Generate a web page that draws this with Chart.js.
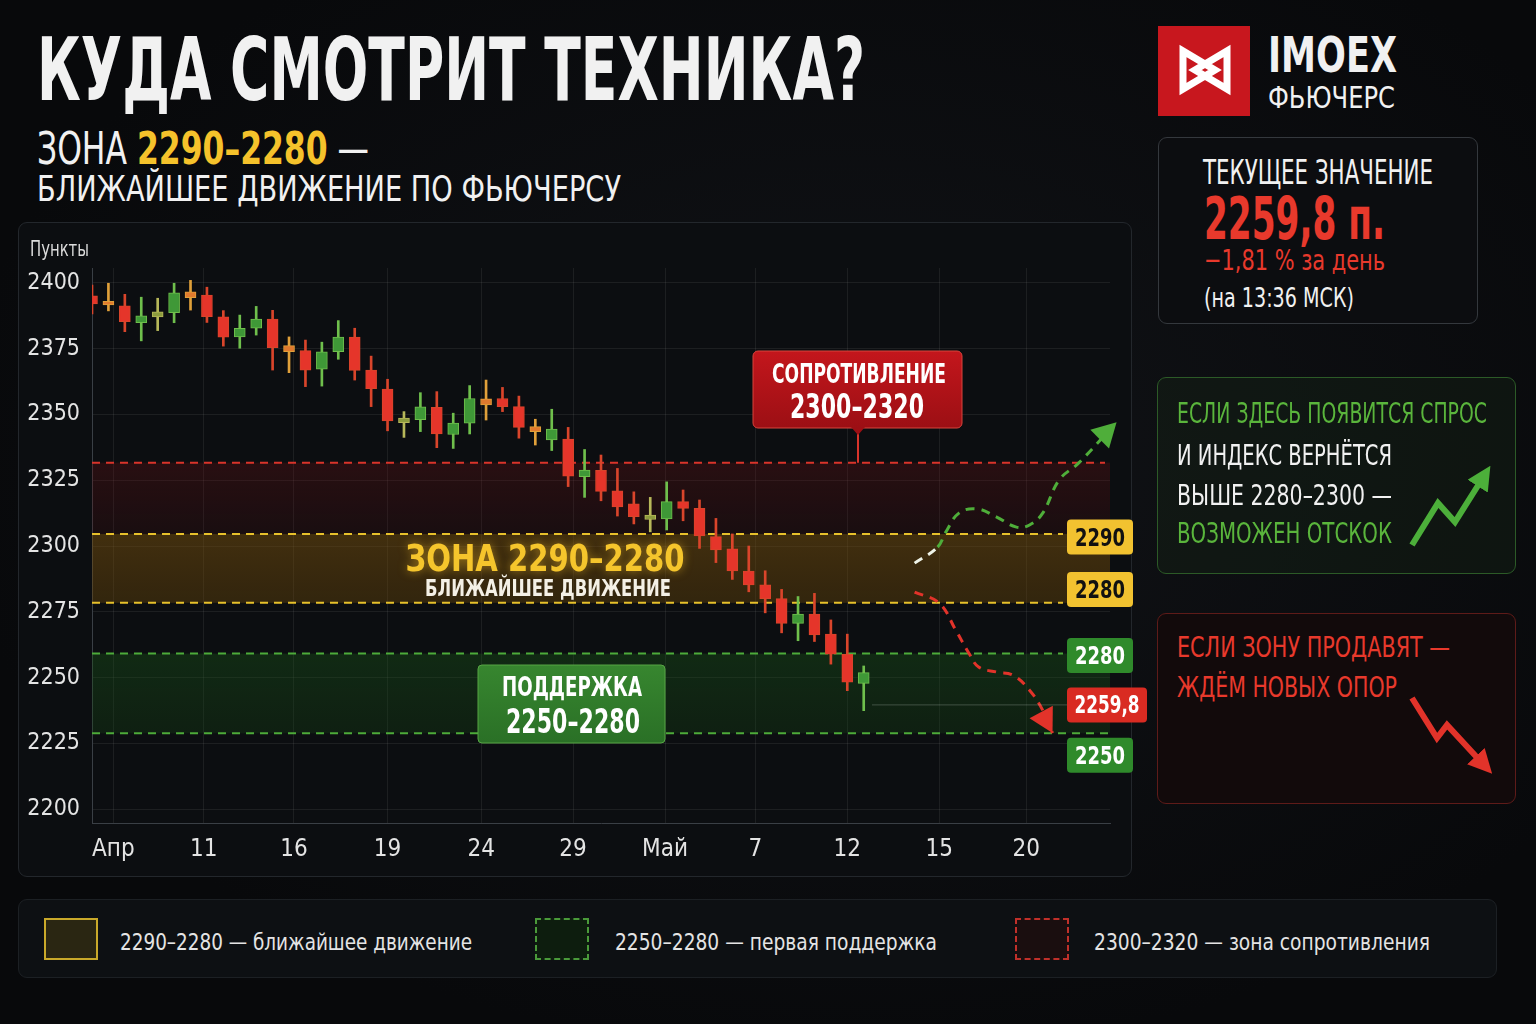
<!DOCTYPE html>
<html lang="ru">
<head>
<meta charset="utf-8">
<title>Куда смотрит техника? IMOEX фьючерс</title>
<script src="https://cdn.jsdelivr.net/npm/chart.js@4.4.1/dist/chart.umd.min.js"></script>
<style>
  html, body { margin: 0; padding: 0; }
  body {
    width: 1536px; height: 1024px; position: relative; overflow: hidden;
    background: radial-gradient(ellipse at 55% 45%, #111317 0%, #08090b 75%);
    font-family: "Liberation Sans Narrow", "DejaVu Sans Condensed", "Roboto", sans-serif;
    color: #f1f1f1;
  }
  .t { position: absolute; white-space: nowrap; line-height: 1; transform-origin: 0 0; }
  .box { position: absolute; box-sizing: border-box; border-radius: 9px; }
  .red { color: #e8392c; }
  .green { color: #5ab53c; }
  .yellow { color: #f5c22b; }
  .swatch { position: absolute; box-sizing: border-box; width: 54px; height: 42px; }
</style>
</head>
<body>

<!-- header -->
<div class="t" data-w="828" style="left:37px;top:26px;font-size:88px;font-weight:700;">КУДА СМОТРИТ ТЕХНИКА?</div>
<div class="t" data-w="332" style="left:37px;top:127px;font-size:44px;">ЗОНА <b class="yellow">2290–2280</b> —</div>
<div class="t" data-w="584" style="left:37px;top:172px;font-size:35px;">БЛИЖАЙШЕЕ ДВИЖЕНИЕ ПО ФЬЮЧЕРСУ</div>

<!-- chart panel -->
<div class="box" style="left:18px;top:222px;width:1114px;height:655px;background:#0c0e11;border:1px solid #23272c;"></div>
<canvas id="chartTech" width="1140" height="655" style="position:absolute;left:18px;top:222px;"></canvas>
<div class="t" data-w="59" style="left:30px;top:239px;font-size:21px;color:#dcdcdc;">Пункты</div>

<!-- logo -->
<div class="box" style="left:1158px;top:26px;width:92px;height:90px;background:#c8171e;border-radius:0;"></div>
<div class="t" data-w="129" style="left:1268px;top:31px;font-size:49px;font-weight:700;">IMOEX</div>
<div class="t" data-w="127" style="left:1268px;top:82px;font-size:31px;">ФЬЮЧЕРС</div>

<!-- current value -->
<div class="box" style="left:1158px;top:137px;width:320px;height:187px;background:#0c0d10;border:1px solid #34383d;"></div>
<div class="t" data-w="230" style="left:1203px;top:156px;font-size:33px;">ТЕКУЩЕЕ ЗНАЧЕНИЕ</div>
<div class="t red" data-w="181" style="left:1204px;top:190px;font-size:58px;font-weight:700;">2259,8 п.</div>
<div class="t red" data-w="181" style="left:1204px;top:246px;font-size:29px;">−1,81 % за день</div>
<div class="t" data-w="150" style="left:1204px;top:284px;font-size:27px;">(на 13:36 МСК)</div>

<!-- scenario: up -->
<div class="box" style="left:1157px;top:377px;width:359px;height:197px;background:rgba(22,40,22,0.35);border:1px solid #2c5a27;"></div>
<div class="t green" data-w="310" style="left:1177px;top:399px;font-size:29px;">ЕСЛИ ЗДЕСЬ ПОЯВИТСЯ СПРОС</div>
<div class="t" data-w="215" style="left:1177px;top:441px;font-size:29px;">И ИНДЕКС ВЕРНЁТСЯ</div>
<div class="t" data-w="215" style="left:1177px;top:481px;font-size:29px;">ВЫШЕ 2280–2300 —</div>
<div class="t green" data-w="215" style="left:1177px;top:519px;font-size:29px;">ВОЗМОЖЕН ОТСКОК</div>

<!-- scenario: down -->
<div class="box" style="left:1157px;top:613px;width:359px;height:191px;background:#120a0b;border:1px solid #5e1b19;"></div>
<div class="t red" data-w="273" style="left:1177px;top:633px;font-size:29px;">ЕСЛИ ЗОНУ ПРОДАВЯТ —</div>
<div class="t red" data-w="220" style="left:1177px;top:673px;font-size:29px;">ЖДЁМ НОВЫХ ОПОР</div>

<!-- legend -->
<div class="box" style="left:18px;top:899px;width:1479px;height:79px;background:#0d1013;border:1px solid #1c2024;"></div>
<div class="swatch" style="left:44px;top:918px;background:#2a2612;border:2px solid #c9a92a;"></div>
<div class="t" data-w="352" style="left:120px;top:931px;font-size:23px;color:#e4e4e4;">2290–2280 — ближайшее движение</div>
<div class="swatch" style="left:535px;top:918px;background:#0d1d0e;border:2px dashed #4a9a3a;"></div>
<div class="t" data-w="322" style="left:615px;top:931px;font-size:23px;color:#e4e4e4;">2250–2280 — первая поддержка</div>
<div class="swatch" style="left:1015px;top:918px;background:#1a0e0f;border:2px dashed #c0302a;"></div>
<div class="t" data-w="336" style="left:1094px;top:931px;font-size:23px;color:#e4e4e4;">2300–2320 — зона сопротивления</div>

<!-- vector decorations -->
<svg width="1536" height="1024" style="position:absolute;left:0;top:0;pointer-events:none;">
  <defs>
    <marker id="headG" viewBox="0 0 10 10" refX="5" refY="5" markerWidth="24" markerHeight="24" markerUnits="userSpaceOnUse" orient="auto">
      <path d="M0,0 L10,5 L0,10 z" fill="#4caf3a"/>
    </marker>
    <marker id="headR" viewBox="0 0 10 10" refX="5" refY="5" markerWidth="24" markerHeight="24" markerUnits="userSpaceOnUse" orient="auto">
      <path d="M0,0 L10,5 L0,10 z" fill="#e2332a"/>
    </marker>
  </defs>
  <path d="M1183 51 L1183 89 L1215 70 Z M1227 51 L1227 89 L1195 70 Z" fill="none" stroke="#ffffff" stroke-width="7" stroke-linejoin="miter"/>
  <polyline points="1412,545 1438,503 1455,522 1484,476" fill="none" stroke="#4caf3a" stroke-width="6" marker-end="url(#headG)"/>
  <polyline points="1412,698 1437,738 1447,725 1484,765" fill="none" stroke="#e2332a" stroke-width="6" marker-end="url(#headR)"/>
</svg>

<script>
// ---- candles (пункты), one per trading day ----
const candleOpen  = [2395.1, 2393.0, 2391.3, 2384.9, 2387.1, 2388.7, 2396.6, 2395.4, 2387.1, 2379.5, 2382.8, 2386.3, 2376.2, 2374.3, 2367.2, 2373.9, 2379.4, 2366.9, 2359.7, 2346.9, 2348.0, 2352.7, 2342.4, 2346.7, 2356.0, 2356.1, 2353.0, 2345.4, 2340.3, 2340.7, 2326.4, 2328.8, 2321.0, 2316.0, 2310.1, 2310.3, 2316.9, 2314.3, 2303.6, 2298.9, 2290.5, 2285.2, 2280.0, 2270.6, 2274.1, 2266.5, 2258.8, 2247.8];
const candleHigh  = [2399.2, 2399.9, 2395.7, 2394.6, 2394.2, 2399.9, 2401.0, 2398.4, 2389.5, 2387.8, 2391.1, 2389.6, 2379.5, 2378.3, 2377.5, 2385.7, 2382.8, 2372.2, 2363.4, 2351.1, 2358.3, 2358.7, 2350.5, 2361.0, 2363.1, 2360.3, 2357.0, 2348.2, 2352.0, 2345.1, 2336.7, 2334.6, 2329.5, 2320.6, 2318.5, 2324.4, 2321.3, 2317.5, 2310.5, 2304.6, 2300.0, 2290.6, 2283.5, 2280.8, 2282.0, 2271.9, 2266.5, 2254.4];
const candleLow   = [2388.2, 2389.4, 2381.5, 2378.0, 2381.9, 2384.9, 2389.7, 2385.0, 2376.0, 2375.2, 2380.2, 2366.9, 2365.9, 2360.6, 2360.8, 2371.0, 2363.1, 2353.0, 2343.8, 2341.3, 2343.5, 2337.4, 2337.1, 2342.6, 2347.9, 2351.1, 2341.0, 2338.4, 2336.3, 2322.6, 2318.5, 2317.2, 2311.4, 2308.4, 2305.4, 2306.1, 2309.6, 2299.1, 2293.7, 2287.3, 2282.6, 2274.6, 2267.0, 2264.0, 2263.7, 2255.1, 2245.0, 2237.4];
const candleClose = [2392.0, 2391.7, 2385.3, 2387.5, 2389.0, 2396.3, 2394.4, 2387.2, 2379.4, 2382.8, 2386.3, 2375.4, 2373.9, 2366.9, 2373.8, 2379.4, 2366.8, 2359.8, 2347.6, 2348.6, 2352.9, 2342.6, 2346.7, 2356.1, 2353.6, 2353.0, 2345.1, 2343.5, 2344.5, 2326.6, 2328.9, 2320.8, 2314.9, 2311.2, 2311.8, 2316.9, 2314.3, 2303.8, 2298.5, 2290.5, 2285.2, 2280.0, 2270.6, 2274.1, 2266.2, 2258.9, 2248.2, 2251.9];

// ---- axes ----
const xTickPos    = [1.3, 6.8, 12.3, 18.0, 23.7, 29.3, 34.9, 40.4, 46.0, 51.6, 56.9];
const xTickLabels = ['Апр', '11', '16', '19', '24', '29', 'Май', '7', '12', '15', '20'];
const yTicks      = [2200, 2225, 2250, 2275, 2300, 2325, 2350, 2375, 2400];

// ---- zones as drawn on the price scale ----
const resistZone  = [2304.6, 2331.7];
const nearZone    = [2278.4, 2304.6];
const supportZone = [2228.8, 2259.1];

// ---- scenario paths (day index, пункты) ----
const bullX = [50.1, 51.5, 52.0, 52.8, 53.9, 55.1, 56.3, 57.1, 57.9, 58.9, 60.1, 62.4];
const bullY = [2293.5, 2299.6, 2305.3, 2312.5, 2314.1, 2311.0, 2307.2, 2308.0, 2312.5, 2325.1, 2331.6, 2347.1];
const bearX = [50.1, 51.6, 52.6, 53.4, 54.0, 55.1, 56.1, 57.1, 57.9, 58.5];
const bearY = [2282.5, 2278.3, 2268.1, 2259.3, 2254.0, 2252.1, 2250.9, 2245.2, 2237.6, 2228.9];

const FONT = '"Liberation Sans Narrow", "DejaVu Sans Condensed", Roboto, sans-serif';
const OFF_X = 18, OFF_Y = 222;   // canvas position on the page

function candleColor(i) {
  const up = candleClose[i] >= candleOpen[i];
  const small = Math.abs(candleClose[i] - candleOpen[i]) < 2.45;
  if (up) return small ? '#8d9c3e' : '#3f9837';
  return small ? '#e07a2e' : '#e5352a';
}
function wickColor(i) {
  const up = candleClose[i] >= candleOpen[i];
  const small = Math.abs(candleClose[i] - candleOpen[i]) < 2.45;
  if (up) return small ? '#b7b85a' : '#6fbf4c';
  return small ? '#e0a03a' : '#d9452b';
}

const bodies = candleOpen.map((o, i) => ({ x: i, y: [Math.min(o, candleClose[i]), Math.max(o, candleClose[i])] }));
const wicks  = candleLow.map((l, i) => ({ x: i, y: [l, candleHigh[i]] }));

function fitText(ctx, text, cx, base, width) {
  const m = ctx.measureText(text).width;
  ctx.save();
  ctx.translate(cx, base);
  ctx.scale(width / m, 1);
  ctx.textAlign = 'center';
  ctx.fillText(text, 0, 0);
  ctx.restore();
}

function arrowHead(ctx, from, to, len, color) {
  const a = Math.atan2(to.y - from.y, to.x - from.x);
  ctx.save();
  ctx.fillStyle = color;
  ctx.beginPath();
  ctx.moveTo(to.x, to.y);
  ctx.lineTo(to.x - len * Math.cos(a) + len * 0.55 * Math.sin(a), to.y - len * Math.sin(a) - len * 0.55 * Math.cos(a));
  ctx.lineTo(to.x - len * Math.cos(a) - len * 0.55 * Math.sin(a), to.y - len * Math.sin(a) + len * 0.55 * Math.cos(a));
  ctx.closePath();
  ctx.fill();
  ctx.restore();
}

// bands + dashed levels, under the candles
const zonesPlugin = {
  id: 'zones',
  beforeDatasetsDraw(chart) {
    const { ctx, chartArea: a, scales: { y } } = chart;
    const rTop = y.getPixelForValue(resistZone[1]), rBot = y.getPixelForValue(resistZone[0]);
    const nTop = y.getPixelForValue(nearZone[1]),   nBot = y.getPixelForValue(nearZone[0]);
    const sTop = y.getPixelForValue(supportZone[1]), sBot = y.getPixelForValue(supportZone[0]);
    ctx.save();
    let g = ctx.createLinearGradient(0, rTop, 0, rBot);
    g.addColorStop(0, 'rgba(110,18,20,0.30)');
    g.addColorStop(1, 'rgba(90,15,16,0.18)');
    ctx.fillStyle = g;
    ctx.fillRect(a.left, rTop, a.width, rBot - rTop);

    g = ctx.createLinearGradient(0, nTop, 0, nBot);
    g.addColorStop(0, 'rgba(125,84,12,0.48)');
    g.addColorStop(1, 'rgba(105,70,10,0.42)');
    ctx.fillStyle = g;
    ctx.fillRect(a.left, nTop, a.width, nBot - nTop);

    g = ctx.createLinearGradient(0, sTop, 0, sBot);
    g.addColorStop(0, 'rgba(28,92,26,0.36)');
    g.addColorStop(1, 'rgba(22,75,22,0.30)');
    ctx.fillStyle = g;
    ctx.fillRect(a.left, sTop, a.width, sBot - sTop);

    const dash = (yy, x2, color) => {
      ctx.beginPath();
      ctx.setLineDash([8, 6]);
      ctx.lineWidth = 2;
      ctx.strokeStyle = color;
      ctx.moveTo(a.left, yy);
      ctx.lineTo(x2, yy);
      ctx.stroke();
    };
    dash(rTop, a.right - 5, '#d9342b');
    dash(nTop, a.right - 47, '#e7c12b');
    dash(nBot, a.right - 47, '#e7c12b');
    dash(sTop, a.right - 47, '#4dab3a');
    dash(sBot, a.right - 2, '#4dab3a');
    ctx.restore();
  }
};

// labels, callouts, price tags, arrow heads
const overlayPlugin = {
  id: 'overlay',
  afterDatasetsDraw(chart) {
    const { ctx, scales: { y } } = chart;
    const X = v => v - OFF_X, Y = v => v - OFF_Y;
    ctx.save();

    // arrow heads of scenario paths
    const bull = chart.getDatasetMeta(0).data, bear = chart.getDatasetMeta(1).data;
    arrowHead(ctx, bull[bull.length - 3], bull[bull.length - 1], 24, '#4fae3a');
    arrowHead(ctx, bear[bear.length - 3], bear[bear.length - 1], 24, '#e2332a');

    // nearest zone title
    const mid = y.getPixelForValue((nearZone[0] + nearZone[1]) / 2);
    ctx.font = 'bold 38px ' + FONT;
    ctx.fillStyle = '#f5c52c';
    ctx.shadowColor = 'rgba(245,190,40,0.55)';
    ctx.shadowBlur = 10;
    fitText(ctx, 'ЗОНА 2290–2280', X(545), mid + 3, 279);
    ctx.shadowBlur = 0;
    ctx.font = 'bold 23px ' + FONT;
    ctx.fillStyle = '#f4f0e6';
    fitText(ctx, 'БЛИЖАЙШЕЕ ДВИЖЕНИЕ', X(548), mid + 28, 246);

    // support box
    let g = ctx.createLinearGradient(0, Y(665), 0, Y(743));
    g.addColorStop(0, '#37862f');
    g.addColorStop(1, '#2a7026');
    ctx.fillStyle = g;
    ctx.beginPath();
    ctx.roundRect(X(478), Y(665), 187, 78, 4);
    ctx.fill();
    ctx.strokeStyle = '#56a545';
    ctx.lineWidth = 1;
    ctx.stroke();
    ctx.fillStyle = '#ffffff';
    ctx.font = 'bold 26px ' + FONT;
    fitText(ctx, 'ПОДДЕРЖКА', X(572), Y(696), 140);
    ctx.font = 'bold 34px ' + FONT;
    fitText(ctx, '2250–2280', X(573), Y(733), 134);

    // resistance callout
    const rTop = y.getPixelForValue(resistZone[1]);
    ctx.strokeStyle = '#d9342b';
    ctx.lineWidth = 2;
    ctx.beginPath();
    ctx.moveTo(X(858), Y(434));
    ctx.lineTo(X(858), rTop);
    ctx.stroke();
    g = ctx.createLinearGradient(0, Y(351), 0, Y(428));
    g.addColorStop(0, '#c3161c');
    g.addColorStop(1, '#9c0f14');
    ctx.fillStyle = g;
    ctx.beginPath();
    ctx.roundRect(X(753), Y(351), 209, 77, 5);
    ctx.fill();
    ctx.strokeStyle = '#d8443c';
    ctx.lineWidth = 1;
    ctx.stroke();
    ctx.fillStyle = '#9c0f14';
    ctx.beginPath();
    ctx.moveTo(X(851), Y(427));
    ctx.lineTo(X(865), Y(427));
    ctx.lineTo(X(858), Y(435));
    ctx.closePath();
    ctx.fill();
    ctx.fillStyle = '#ffffff';
    ctx.font = 'bold 26px ' + FONT;
    fitText(ctx, 'СОПРОТИВЛЕНИЕ', X(859), Y(383), 174);
    ctx.font = 'bold 33px ' + FONT;
    fitText(ctx, '2300–2320', X(857), Y(418), 134);

    // price tags on the right edge
    const tags = [
      { text: '2290',   at: 2303.4, bg: '#f2c230', fg: '#111111', w: 66, tw: 50 },
      { text: '2280',   at: 2283.5, bg: '#f2c230', fg: '#111111', w: 66, tw: 50 },
      { text: '2280',   at: 2258.4, bg: '#2f8a2b', fg: '#ffffff', w: 66, tw: 50 },
      { text: '2259,8', at: 2239.6, bg: '#d92b22', fg: '#ffffff', w: 80, tw: 65 },
      { text: '2250',   at: 2220.5, bg: '#2f8a2b', fg: '#ffffff', w: 66, tw: 50 }
    ];
    const last = tags[3];
    ctx.strokeStyle = 'rgba(220,220,220,0.25)';
    ctx.lineWidth = 1;
    ctx.beginPath();
    ctx.moveTo(X(872), y.getPixelForValue(last.at));
    ctx.lineTo(X(1067), y.getPixelForValue(last.at));
    ctx.stroke();
    ctx.font = 'bold 24px ' + FONT;
    tags.forEach(t => {
      const cy = y.getPixelForValue(t.at);
      ctx.fillStyle = t.bg;
      ctx.beginPath();
      ctx.roundRect(X(1067), cy - 17.5, t.w, 35, 4);
      ctx.fill();
      ctx.fillStyle = t.fg;
      fitText(ctx, t.text, X(1067) + t.w / 2, cy + 8.5, t.tw);
    });
    ctx.restore();
  }
};

new Chart(document.getElementById('chartTech'), {
  type: 'bar',
  data: {
    datasets: [
      {
        type: 'line',
        label: 'Отскок',
        data: bullX.map((x, i) => ({ x, y: bullY[i] })),
        borderColor: '#4fae3a',
        borderWidth: 3,
        borderDash: [9, 7],
        pointRadius: 0,
        tension: 0.4,
        clip: false,
        order: -2,
        segment: { borderColor: c => (c.p0DataIndex === 0 ? '#eef3e8' : '#4fae3a') }
      },
      {
        type: 'line',
        label: 'Снижение',
        data: bearX.map((x, i) => ({ x, y: bearY[i] })),
        borderColor: '#e2332a',
        borderWidth: 3,
        borderDash: [9, 7],
        pointRadius: 0,
        tension: 0.4,
        clip: false,
        order: -1
      },
      {
        label: 'Тело',
        data: bodies,
        backgroundColor: bodies.map((b, i) => candleColor(i)),
        borderColor: bodies.map((b, i) => wickColor(i)),
        borderWidth: 1,
        borderSkipped: false,
        barThickness: 11,
        minBarLength: 3,
        grouped: false,
        clip: { left: 0, top: 10, right: 0, bottom: 0 },
        order: 0
      },
      {
        label: 'Тень',
        data: wicks,
        backgroundColor: wicks.map((w, i) => wickColor(i)),
        borderWidth: 0,
        barThickness: 2,
        grouped: false,
        clip: { left: 0, top: 10, right: 0, bottom: 0 },
        order: 1
      }
    ]
  },
  options: {
    responsive: false,
    animation: false,
    layout: { padding: { top: 46, right: 48, left: 0, bottom: 0 } },
    plugins: { legend: { display: false }, tooltip: { enabled: false } },
    scales: {
      x: {
        type: 'linear',
        min: 0,
        max: 62,
        offset: false,
        afterBuildTicks: s => { s.ticks = xTickPos.map(v => ({ value: v })); },
        afterFit: s => { s.height = 54; },
        ticks: {
          autoSkip: false,
          maxRotation: 0,
          padding: 12,
          color: '#e4e4e4',
          font: { family: FONT, size: 24 },
          callback: (v, i) => xTickLabels[i]
        },
        grid: { color: 'rgba(255,255,255,0.07)', drawTicks: false, offset: false },
        border: { color: '#3a3f45', width: 1 }
      },
      y: {
        min: 2194.7,
        max: 2405.7,
        afterBuildTicks: s => { s.ticks = yTicks.map(v => ({ value: v })); },
        afterFit: s => { s.width = 74; },
        ticks: {
          padding: 12,
          color: '#e4e4e4',
          font: { family: FONT, size: 23 },
          callback: v => String(v)
        },
        grid: { color: 'rgba(255,255,255,0.07)', drawTicks: false },
        border: { color: '#3a3f45', width: 1 }
      }
    }
  },
  plugins: [zonesPlugin, overlayPlugin]
});

// squeeze html text lines to the widths they have in the layout
document.querySelectorAll('[data-w]').forEach(el => {
  const w = el.getBoundingClientRect().width;
  el.style.transform = 'scaleX(' + (+el.dataset.w / w) + ')';
});
</script>
</body>
</html>
